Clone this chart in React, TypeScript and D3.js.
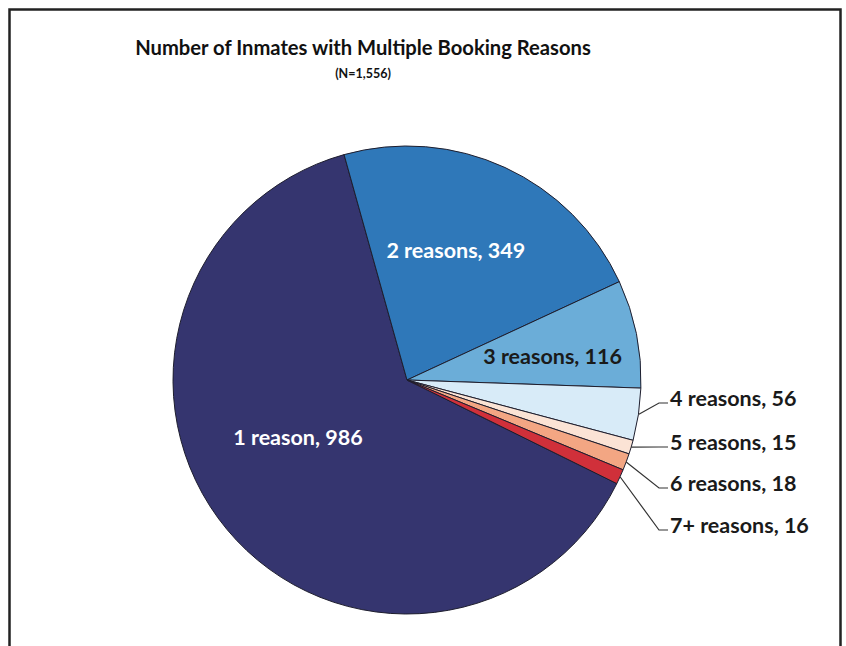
import React, { useEffect, useRef } from 'react'
import * as d3 from 'd3'

const categories = ['1 reason', '2 reasons', '3 reasons', '4 reasons', '5 reasons', '6 reasons', '7+ reasons']
const counts = [986, 349, 116, 56, 15, 18, 16]
const colors = ['#35356f', '#2f78b9', '#6badd8', '#d8ebf8', '#fbe3d5', '#f3a683', '#d0303a']
const labelColors = ['#ffffff', '#ffffff', '#1a1a1a']

const title = 'Number of Inmates with Multiple Booking Reasons'
const subtitle = '(N=1,556)'

interface Slice {
  name: string
  value: number
  color: string
}

const App = () => {
  const svgRef = useRef<SVGSVGElement>(null)

  useEffect(() => {
    if (!svgRef.current) return
    const w = 846
    const h = 646
    const cx = 407
    const cy = 380
    const r = 234
    const font = 'Lato, "Open Sans", sans-serif'

    const data: Slice[] = categories.map((c, i) => ({ name: c, value: counts[i], color: colors[i] }))
    const total = d3.sum(counts)

    // first slice ends ~15.6deg left of 12 o'clock
    const endFirst = (-15.6 * Math.PI) / 180
    const start = endFirst - (counts[0] / total) * 2 * Math.PI

    const pie = d3
      .pie<Slice>()
      .sort(null)
      .value((d) => d.value)
      .startAngle(start)
      .endAngle(start + 2 * Math.PI)

    const arcs = pie(data)
    const arc = d3.arc<d3.PieArcDatum<Slice>>().innerRadius(0).outerRadius(r)
    const labelArc = d3.arc<d3.PieArcDatum<Slice>>().innerRadius(0).outerRadius(r * 1.2)

    const svg = d3.select(svgRef.current)
    svg.selectAll('*').remove()

    svg.append('rect').attr('width', w).attr('height', h).attr('fill', '#fff')

    // outer frame (bottom runs off the picture)
    svg
      .append('rect')
      .attr('x', 9.5)
      .attr('y', 9.5)
      .attr('width', 831)
      .attr('height', 700)
      .attr('fill', 'none')
      .attr('stroke', '#222')
      .attr('stroke-width', 2.5)

    svg
      .append('text')
      .attr('x', 363)
      .attr('y', 47)
      .attr('text-anchor', 'middle')
      .attr('dominant-baseline', 'central')
      .attr('font-family', font)
      .attr('font-weight', 700)
      .attr('font-size', 20.2)
      .attr('fill', '#111')
      .text(title)

    svg
      .append('text')
      .attr('x', 363)
      .attr('y', 73)
      .attr('text-anchor', 'middle')
      .attr('dominant-baseline', 'central')
      .attr('font-family', font)
      .attr('font-weight', 700)
      .attr('font-size', 12.5)
      .attr('fill', '#111')
      .text(subtitle)

    const g = svg.append('g').attr('transform', `translate(${cx},${cy})`)

    g.selectAll('path.slice')
      .data(arcs)
      .join('path')
      .attr('class', 'slice')
      .attr('d', arc)
      .attr('fill', (d) => d.data.color)
      .attr('stroke', '#1e1e2e')
      .attr('stroke-width', 1)

    // inside labels for the three big slices
    const nudge: [number, number][] = [
      [-1, -33],
      [-10, -3],
      [8, 4],
    ]
    arcs.slice(0, 3).forEach((d, i) => {
      const [x, y] = labelArc.centroid(d)
      g.append('text')
        .attr('x', x + nudge[i][0])
        .attr('y', y + nudge[i][1])
        .attr('text-anchor', 'middle')
        .attr('dominant-baseline', 'central')
        .attr('font-family', font)
        .attr('font-weight', 700)
        .attr('font-size', 21.5)
        .attr('fill', labelColors[i])
        .text(`${d.data.name}, ${d.data.value}`)
    })

    // outside labels with leader lines for the small slices
    const labelX = 670 - cx
    const labelYs = [398, 442, 483, 525].map((v) => v - cy)
    arcs.slice(3).forEach((d, i) => {
      const a = (d.startAngle + d.endAngle) / 2
      const x0 = Math.sin(a) * r
      const y0 = -Math.cos(a) * r
      const ly = labelYs[i]
      g.append('polyline')
        .attr('points', `${x0},${y0} ${labelX - 11},${ly + 5} ${labelX - 2},${ly + 5}`)
        .attr('fill', 'none')
        .attr('stroke', '#333')
        .attr('stroke-width', 1.2)
      g.append('text')
        .attr('x', labelX)
        .attr('y', ly)
        .attr('dominant-baseline', 'central')
        .attr('font-family', font)
        .attr('font-weight', 700)
        .attr('font-size', 21.5)
        .attr('fill', '#1a1a1a')
        .text(`${d.data.name}, ${d.data.value}`)
    })
  }, [])

  return (
    <svg
      ref={svgRef}
      width={846}
      height={646}
      style={{ position: 'absolute', left: 0, top: 0, display: 'block' }}
    />
  )
}

export default App
